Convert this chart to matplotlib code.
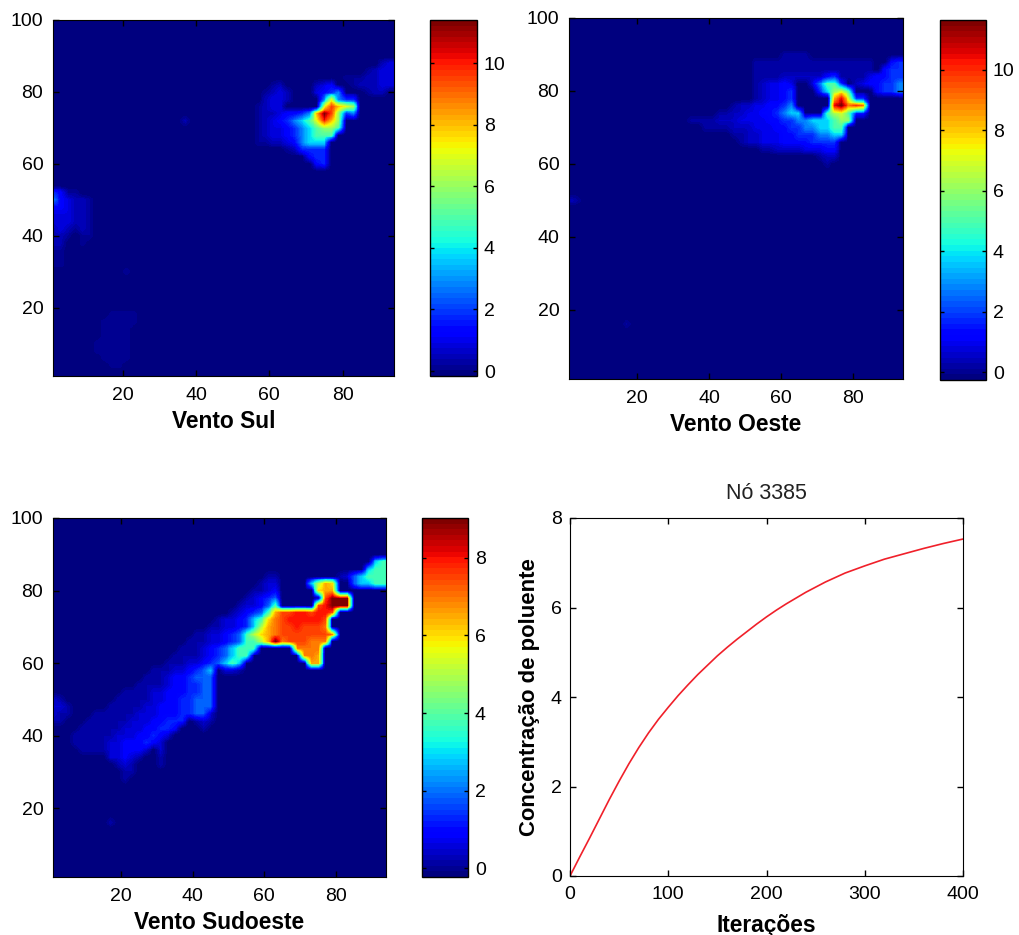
import matplotlib
matplotlib.use("Agg")
import matplotlib.pyplot as plt
import numpy as np

plt.rcParams['font.family'] = ['Liberation Sans', 'DejaVu Sans']

W, H = 1019, 935

# cell readings: one letter per grid cell, see LEVELS
LEVELS = {'a': 0.2, 'b': 0.5, 'c': 0.9, 'd': 1.3, 'e': 1.8, 'f': 2.8, 'g': 3.8,
          'h': 5.0, 'i': 6.0, 'o': 6.5, 'j': 7.0, 'p': 7.5, 'k': 8.0, 'q': 8.5,
          'l': 9.0, 'r': 9.5, 'm': 10.0, 's': 10.5, 'n': 11.0, 't': 11.4, 'u': 11.7}

# (y, first x, cells going right in steps of 2)
sul_rows = [
    (88, 91, "bc"), (86, 87, "abcc"), (84, 81, "aaabbcc"),
    (82, 83, "abbbcc"), (82, 61, "ab"), (82, 73, "bcd"),
    (80, 87, "abb"), (80, 59, "abcb"), (80, 73, "cdef"),
    (78, 59, "bccb"), (78, 75, "fjfee"),
    (76, 57, "abcc"), (76, 75, "jrkji"),
    (74, 57, "abbcddef"), (74, 73, "ktrief"),
    (72, 57, "abcdefghjmki"),
    (70, 57, "abccdefghiih"), (68, 57, "abccdefghhh"),
    (66, 57, "aabbcdfggg"), (64, 65, "abeeee"), (62, 71, "dee"), (60, 73, "de"),
    (72, 37, "b"),
    (52, 1, "edaa"), (50, 1, "fdcbba"), (48, 1, "ddcbba"), (46, 1, "cccbba"),
    (44, 1, "cccbba"), (42, 1, "bcbaba"), (40, 1, "bba.aa"), (38, 1, "bb..a"),
    (36, 1, "aa"), (34, 1, "aa"), (32, 1, "aa"), (30, 21, "a"),
    (18, 17, "aaaa"), (16, 15, "aaaaa"), (14, 15, "aaaa"), (12, 15, "aaaa"),
    (10, 13, "aaaaa"), (8, 13, "aaaaa"), (6, 15, "aaaa"), (4, 17, "aa"),
]

oeste_rows = [
    (90, 61, "aaaa"), (88, 53, "aaaaaaaaaaaaaaaaa"), (88, 91, "de"),
    (86, 53, "aaaaaaaaaaaaaaaaa"), (86, 89, "dee"),
    (84, 53, "aaaabbbbbbdeaaaa"), (84, 85, "cddee"),
    (82, 53, "abccdc"), (82, 69, "cfhhe"), (82, 81, "bcddeef"),
    (80, 53, "abccde"), (80, 71, "egijh"), (80, 87, "deef"),
    (78, 53, "abccde"), (78, 75, "qsjee"),
    (76, 47, "abbccddef"), (76, 75, "sulml"),
    (74, 43, "aabbccddefgg"), (74, 73, "hojhee"),
    (72, 35, "aaaabbbccccddeeffggghii"),
    (70, 39, "aaaabbbcccddeeffgghh"),
    (68, 47, "aabbcccddeeeffgg"),
    (66, 49, "abbcccddddeeee"),
    (64, 55, "aabbbbcccdd"),
    (62, 71, "abb"), (60, 73, "a"),
    (50, 1, "ba"), (16, 17, "a"),
]

sudoeste_rows = [
    (88, 91, "fg"), (86, 89, "fgg"), (84, 81, "abefggg"), (82, 85, "effgg"),
    (84, 61, "aa"), (82, 59, "abb"), (80, 57, "aabc"), (78, 55, "abcde"),
    (76, 53, "abbceg"),
    (82, 73, "fhoi"), (80, 75, "ioo"), (78, 77, "plll"), (76, 75, "pklll"),
    (74, 51, "abcdegoppkkpkkp"), (72, 47, "abbcdfgijpkkkkkp"),
    (70, 45, "aabbcdfhojppkpppj"), (68, 41, "aabbcdeghiojpppppppj"),
    (66, 39, "aaabbcdeggholjpppjjj"),
    (64, 37, "aaabcdefggg"), (64, 69, "jjjj"),
    (62, 35, "aaaabcdefgg"), (62, 71, "jjo"),
    (60, 33, "aaabbcdefgf"), (60, 73, "oo"),
    (58, 29, "aaabbcdef"), (58, 49, "bba"),
    (56, 27, "aaabccdeee"), (54, 25, "aaaabccddee"),
    (52, 21, "aaaabbcccddee"), (50, 19, "aaaaabbccddeee"),
    (48, 17, "aaaaabbcccddeee"), (46, 13, "aaaaaabbbcccddeeb"),
    (44, 11, "aaaaaabbbccddd"), (44, 41, "aba"),
    (42, 9, "aaaaaabbbccddc"), (42, 43, "a"),
    (40, 7, "aaaaaabbbccdcb"), (38, 7, "aaaaabbcccdcb"),
    (36, 9, "aaaa"), (36, 17, "bbcccb"), (36, 31, "b"),
    (34, 17, "bbcba"), (34, 31, "a"), (32, 19, "aba"), (32, 31, "a"),
    (30, 21, "aa"), (28, 21, "a"),
    (50, 1, "ba"), (48, 1, "bba"), (46, 1, "baa"), (44, 1, "aa"), (16, 17, "a"),
]

sul_range = (-0.16, 11.4)
oeste_range = (-0.26, 11.65)
sudoeste_range = (-0.23, 9.03)

iteracoes = [0, 10, 20, 30, 40, 50, 60, 70, 80, 90, 100, 110, 120, 130, 140, 150, 160,
             170, 180, 190, 200, 210, 220, 230, 240, 260, 280, 300, 320, 340, 360, 380, 400]
concentracao = [0, 0.43, 0.85, 1.28, 1.71, 2.12, 2.51, 2.87, 3.2, 3.5, 3.77, 4.03, 4.27,
                4.5, 4.71, 4.92, 5.11, 5.29, 5.46, 5.63, 5.79, 5.94, 6.08, 6.21, 6.34,
                6.57, 6.77, 6.93, 7.08, 7.2, 7.32, 7.43, 7.53]

titulo = "Nó 3385"
xlabels = ["Vento Sul", "Vento Oeste", "Vento Sudoeste"]


def grid(rows, floor):
    z = np.full((50, 47), floor, dtype=float)
    for y, x0, cells in rows:
        for k, c in enumerate(cells):
            if c in LEVELS:
                z[(100 - y) // 2, (x0 - 1) // 2 + k] = LEVELS[c]
    return z


def smooth_field(z):
    """Shade the cells for display: the plain bilinear shading of the readings."""
    xs = np.arange(1, 95, 2)
    ys = np.arange(2, 102, 2)
    fx = np.linspace(0, 94, 377)
    fy = np.linspace(1, 101, 401)
    across = np.array([np.interp(fx, xs, row) for row in z[::-1]])
    return np.array([np.interp(fy, ys, col) for col in across.T]).T


def box(l, t, r, b):
    return fig.add_axes([l / W, 1 - b / H, (r - l) / W, (b - t) / H])


TICK = 14
LAB = 16.4
fig = plt.figure(figsize=(W / 100, H / 100), dpi=100, facecolor='white')
jet = plt.get_cmap('jet', 64)

panels = [
    (sul_rows, sul_range, (53, 20, 394, 376), (430, 20, 477, 376), xlabels[0]),
    (oeste_rows, oeste_range, (569, 18, 903, 379), (940, 20, 986, 380), xlabels[1]),
    (sudoeste_rows, sudoeste_range, (53, 518, 386, 877), (422, 518, 468, 877), xlabels[2]),
]
for rows, (lo, hi), ab, cb, lab in panels:
    ax = box(*ab)
    im = ax.imshow(smooth_field(grid(rows, lo)), cmap=jet, vmin=lo, vmax=hi,
                   extent=(0, 94, 1, 101), aspect='auto', interpolation='nearest',
                   origin='lower')
    ax.set_xlim(1, 94)
    ax.set_ylim(1, 100)
    ax.set_xticks([20, 40, 60, 80])
    ax.set_yticks([20, 40, 60, 80, 100])
    ax.tick_params(axis='x', direction='in', length=4, width=1, top=True, labelsize=TICK, pad=8)
    ax.tick_params(axis='y', direction='in', length=4, width=1, right=True, labelsize=TICK, pad=7)
    ax.set_xlabel(lab, fontsize=LAB, fontweight='bold', labelpad=4)
    cax = box(*cb)
    cbar = fig.colorbar(im, cax=cax)
    top = int(np.floor(hi / 2) * 2)
    cbar.set_ticks(list(range(0, top + 1, 2)))
    cbar.ax.tick_params(direction='in', length=3, width=1, labelsize=TICK, pad=5,
                        left=True, right=True)
    cbar.outline.set_linewidth(1)

ax = box(570, 518, 963, 876)
ax.plot(iteracoes, concentracao, color='#f0202a', lw=1.2)
ax.set_xlim(0, 400)
ax.set_ylim(0, 8)
ax.set_xticks([0, 100, 200, 300, 400])
ax.set_yticks([0, 2, 4, 6, 8])
ax.tick_params(axis='x', direction='in', length=4, width=1, top=True, labelsize=TICK, pad=7)
ax.tick_params(axis='y', direction='in', length=4, width=1, right=True, labelsize=TICK, pad=6)
ax.set_xlabel("Iterações", fontsize=LAB, fontweight='bold', labelpad=8)
ax.set_ylabel("Concentração de poluente", fontsize=15.9, fontweight='bold', labelpad=8)
ax.set_title(titulo, fontsize=15.5, pad=14, color='#222222')

fig.savefig("out.png", dpi=100)
